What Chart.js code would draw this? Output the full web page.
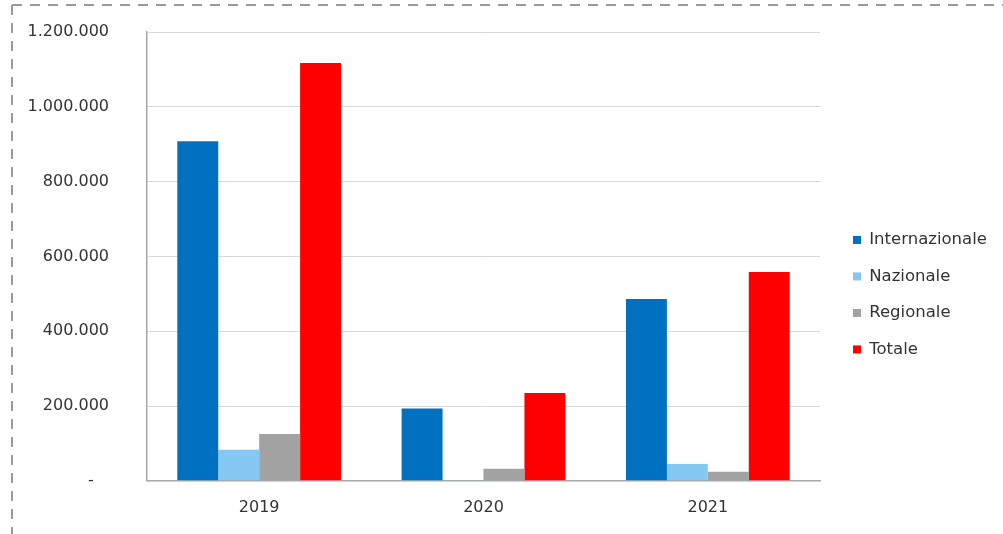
<!DOCTYPE html>
<html>
<head>
<meta charset="utf-8">
<script src="https://cdn.jsdelivr.net/npm/chart.js@4"></script>
<style>
  html, body { margin: 0; padding: 0; background: #fff; }
  #wrap { width: 1003px; height: 534px; position: relative; }
</style>
</head>
<body>
<div id="wrap"><canvas id="chart"></canvas></div>
<script>
// dati
const anni = ['2019', '2020', '2021'];
const internazionale = [908000, 193000, 486000];
const nazionale      = [83000, 2000, 45000];
const regionale      = [125000, 32000, 24000];
const totale         = [1117000, 235000, 558000];

const FONT = 'DejaVu Sans';

// formato contabile: 1.200.000, zero come "-"
function fmt(v){
  if (v === 0) return '-   ';
  return String(v).replace(/\B(?=(\d{3})+(?!\d))/g, '.');
}

// bordo tratteggiato del riquadro
const dashedFrame = {
  id: 'dashedFrame',
  beforeDraw(chart){
    const c = chart.ctx;
    c.save();
    c.strokeStyle = '#9a9a9a';
    c.lineWidth = 2;
    c.setLineDash([10, 8]);
    c.beginPath();
    c.moveTo(12, 5); c.lineTo(1003, 5);
    c.moveTo(12, 5); c.lineTo(12, 534);
    c.stroke();
    c.restore();
  }
};

new Chart(document.getElementById('chart'), {
  type: 'bar',
  data: {
    labels: anni,
    datasets: [
      { label: 'Internazionale', data: internazionale, backgroundColor: '#0070C0' },
      { label: 'Nazionale',      data: nazionale,      backgroundColor: '#86C8F4' },
      { label: 'Regionale',      data: regionale,      backgroundColor: '#A2A2A2' },
      { label: 'Totale',         data: totale,         backgroundColor: '#FF0000' }
    ]
  },
  options: {
    responsive: true,
    maintainAspectRatio: false,
    animation: false,
    layout: { padding: { top: 32, left: 28, right: 9, bottom: 0 } },
    datasets: { bar: { barPercentage: 1, categoryPercentage: 0.73 } },
    scales: {
      x: {
        grid: { display: false, drawTicks: false },
        border: { display: true, color: '#A8A8A8', width: 1.5 },
        ticks: { padding: 17, color: '#333', font: { family: FONT, size: 16 } }
      },
      y: {
        min: 0, max: 1200000,
        grid: { color: '#D9D9D9', drawTicks: false },
        border: { display: true, color: '#A8A8A8', width: 1.5 },
        ticks: {
          stepSize: 200000, padding: 38, color: '#333',
          font: { family: FONT, size: 16 },
          callback: v => fmt(v)
        },
        afterFit: s => { s.width = 119; s.paddingTop = 0; s.paddingBottom = 0; }
      },
      spacer: {
        position: 'right',
        grid: { display: false, drawTicks: false },
        border: { display: false },
        ticks: { display: false },
        afterFit: s => { s.width = 13; }
      }
    },
    plugins: {
      legend: {
        position: 'right',
        title: { display: true, text: '', font: { size: 2 }, padding: { top: 21, bottom: 0 } },
        labels: {
          boxWidth: 8, boxHeight: 8, padding: 20, color: '#333',
          font: { family: FONT, size: 16.5 }
        }
      },
      tooltip: { enabled: false }
    }
  },
  plugins: [dashedFrame]
});
</script>
</body>
</html>
